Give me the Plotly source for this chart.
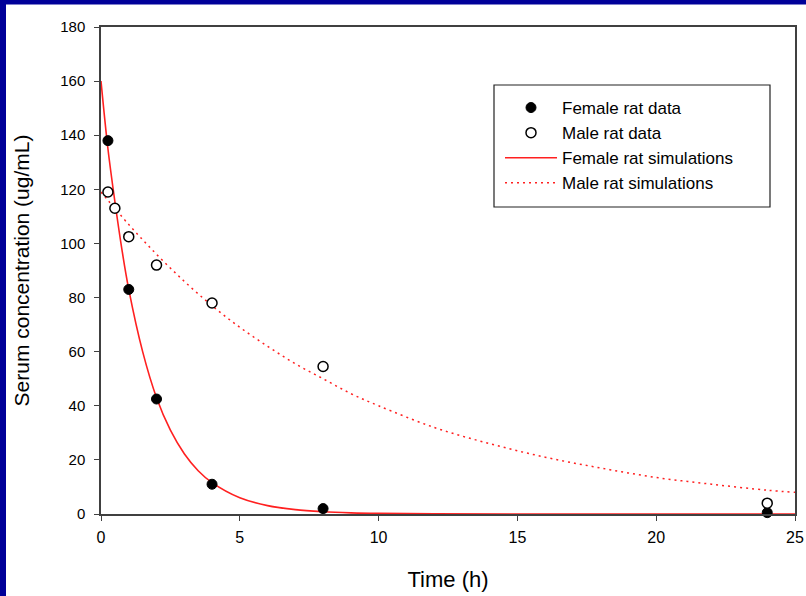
import plotly.graph_objects as go

# Observed data
female_t = [0.25, 1, 2, 4, 8, 24]
female_c = [138, 83, 42.5, 11, 2, 0.5]
male_t = [0.25, 0.5, 1, 2, 4, 8, 24]
male_c = [119, 113, 102.5, 92, 78, 54.5, 4]

# Simulation curves
fsim_t = [0, 0.25, 0.5, 0.75, 1, 1.5, 2, 2.5, 3, 3.5, 4, 5, 6, 7, 8, 9, 10, 12, 15, 20, 25]
fsim_c = [160, 135, 115.5, 98, 83, 60, 43, 31, 22.3, 16, 11.6, 6, 3.1, 1.6, 0.84, 0.43, 0.22, 0.06, 0, 0, 0]
msim_t = [0, 1, 2, 3, 4, 5, 6, 7, 8, 9, 10, 12, 14, 16, 18, 20, 22, 24, 25]
msim_c = [119, 107, 96, 86, 77, 69, 62, 55.5, 50, 44.5, 40, 32, 26, 21, 17, 13.5, 11, 8.8, 8]

x_ticks = [0, 5, 10, 15, 20, 25]
y_ticks = [0, 20, 40, 60, 80, 100, 120, 140, 160, 180]

FONT = "Liberation Sans, Arial, sans-serif"
AX = "#404040"

fig = go.Figure()
fig.add_trace(go.Scatter(x=fsim_t, y=fsim_c, mode="lines", name="Female rat simulations",
                         legendrank=3,
                         line=dict(color="#ff2020", width=1.6, shape="spline"), cliponaxis=False))
fig.add_trace(go.Scatter(x=msim_t, y=msim_c, mode="lines", name="Male rat simulations",
                         legendrank=4,
                         line=dict(color="#ff2020", width=1.5, dash="2px,4px", shape="spline")))
fig.add_trace(go.Scatter(x=female_t, y=female_c, mode="markers", name="Female rat data",
                         legendrank=1,
                         marker=dict(symbol="circle", size=10, color="black",
                                     line=dict(color="black", width=1)), cliponaxis=False))
fig.add_trace(go.Scatter(x=male_t, y=male_c, mode="markers", name="Male rat data",
                         legendrank=2,
                         marker=dict(symbol="circle", size=10, color="white",
                                     line=dict(color="black", width=1.5)), cliponaxis=False))

L, R, T, B = 101, 11, 27, 82
W, H = 806, 596
pw, ph = W - L - R, H - T - B

def px_x(x):
    return (x - L) / pw

def px_y(y):
    return (H - B - y) / ph

shapes = [
    dict(type="rect", xref="paper", yref="paper", x0=px_x(0), x1=px_x(W), y0=px_y(0), y1=px_y(4.5),
         fillcolor="#000099", line=dict(width=0), layer="below"),
    dict(type="rect", xref="paper", yref="paper", x0=px_x(0), x1=px_x(6), y0=px_y(0), y1=px_y(H),
         fillcolor="#000099", line=dict(width=0), layer="below"),
    # legend frame
    dict(type="rect", xref="paper", yref="paper", x0=px_x(494), x1=px_x(770), y0=px_y(207), y1=px_y(85),
         fillcolor="white", line=dict(color="#222222", width=1.2), layer="below"),
]

fig.update_layout(
    width=W, height=H,
    margin=dict(l=L, r=R, t=T, b=B, autoexpand=False),
    paper_bgcolor="white", plot_bgcolor="white",
    font=dict(family=FONT, color="black"),
    shapes=shapes,
    showlegend=True,
    legend=dict(x=px_x(500), y=px_y(90), xanchor="left", yanchor="top",
                bgcolor="rgba(0,0,0,0)", borderwidth=0,
                font=dict(size=17, family=FONT), itemwidth=52,
                traceorder="normal"),
    xaxis=dict(range=[0, 25], tickvals=x_ticks, ticks="outside", ticklen=5, tickcolor=AX,
               showline=True, linecolor=AX, linewidth=1.5, mirror=True, showgrid=False,
               zeroline=False, tickfont=dict(size=16), automargin=False, ticklabelstandoff=3,
               title=dict(text="Time (h)", font=dict(size=22), standoff=27)),
    yaxis=dict(range=[0, 180], tickvals=y_ticks, ticks="outside", ticklen=5, tickcolor=AX,
               showline=True, linecolor=AX, linewidth=1.5, mirror=True, showgrid=False,
               zeroline=False, tickfont=dict(size=15), automargin=False, ticklabelstandoff=6,
               title=dict(text="Serum concentration (ug/mL)", font=dict(size=21), standoff=25)),
)

fig.write_html("out.html", config={"displayModeBar": False},
               post_script="document.body.style.margin='0';")
